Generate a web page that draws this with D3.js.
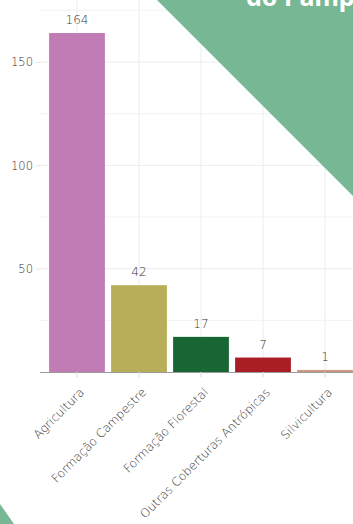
<!DOCTYPE html>
<html>
<head>
<meta charset="utf-8">
<script src="https://cdn.jsdelivr.net/npm/d3@7"></script>
<style>
  html, body { margin: 0; padding: 0; background: #fff; overflow: hidden; }
  text { font-family: "DejaVu Sans", Lato, sans-serif; font-weight: 200; fill: #333; }
</style>
</head>
<body>
<div id="chart"></div>
<script>
// data
var categories = ["Agricultura", "Formação Campestre", "Formação Florestal", "Outras Coberturas Antrópicas", "Silvicultura"];
var values = [164, 42, 17, 7, 1];
var yTicks = [50, 100, 150];
var yMinor = [25, 75, 125, 175];
var palette = ["#c27cb5", "#b8ad58", "#176633", "#a91d25", "#c99a7f"];

var W = 353, H = 524;
var labelFont = "'DejaVu Sans', Lato, sans-serif";

var svg = d3.select("#chart")
    .append("svg")
    .attr("width", W)
    .attr("height", H);

// panel goes past the right edge, like the cropped original
var panelLeft = 40, panelRight = 361;

var x = d3.scaleBand()
    .domain(categories)
    .range([46, 356])
    .paddingInner(0.1)
    .paddingOuter(0.05);

var y = d3.scaleLinear()
    .domain([0, 175])
    .range([372, 10.3]);

var color = d3.scaleOrdinal().domain(categories).range(palette);

// grid
svg.append("g").selectAll("line")
    .data(yTicks.concat(yMinor))
    .enter().append("line")
    .attr("x1", panelLeft).attr("x2", panelRight)
    .attr("y1", function(d) { return y(d); })
    .attr("y2", function(d) { return y(d); })
    .attr("stroke", "#ececec")
    .attr("stroke-width", function(d) { return yTicks.indexOf(d) >= 0 ? 1 : 0.7; });

svg.append("g").selectAll("line")
    .data(categories)
    .enter().append("line")
    .attr("x1", function(d) { return x(d) + x.bandwidth() / 2; })
    .attr("x2", function(d) { return x(d) + x.bandwidth() / 2; })
    .attr("y1", 0).attr("y2", 378)
    .attr("stroke", "#ececec");

// y tick marks + labels
var yAxis = svg.append("g")
    .attr("transform", "translate(" + panelLeft + ",0)")
    .call(d3.axisLeft(y).tickValues(yTicks).tickSize(4).tickPadding(3));
yAxis.select(".domain").remove();
yAxis.selectAll(".tick line").attr("stroke", "#e4e4e4");
yAxis.selectAll(".tick text")
    .attr("font-size", 11.5)
    .style("font-family", labelFont)
    .style("font-weight", 200)
    .attr("fill", "#333");

// green corner shape
svg.append("polygon")
    .attr("points", "157,0 420,263 420,0")
    .attr("fill", "#77b793");
svg.append("text")
    .attr("x", 246).attr("y", 6)
    .attr("font-size", 25)
    .style("font-weight", 700)
    .style("font-family", "'Noto Sans', sans-serif")
    .style("fill", "#fff")
    .text("do Pampa");

svg.append("polygon")
    .attr("points", "0,504 14,524 0,524")
    .attr("fill", "#77b793");

// bars
svg.append("g").selectAll("rect")
    .data(values)
    .enter().append("rect")
    .attr("x", function(d, i) { return x(categories[i]); })
    .attr("y", function(d) { return y(d); })
    .attr("width", x.bandwidth())
    .attr("height", function(d) { return y(0) - y(d); })
    .attr("fill", function(d, i) { return color(categories[i]); });

// value labels
svg.append("g").selectAll("text")
    .data(values)
    .enter().append("text")
    .attr("x", function(d, i) { return x(categories[i]) + x.bandwidth() / 2; })
    .attr("y", function(d) { return y(d) - 9; })
    .attr("text-anchor", "middle")
    .attr("font-size", 12)
    .style("font-family", labelFont)
    .style("font-weight", 200)
    .text(function(d) { return d; });

// x axis
var xAxis = svg.append("g")
    .attr("transform", "translate(0," + y(0) + ")")
    .call(d3.axisBottom(x).tickSize(5).tickSizeOuter(0));
xAxis.select(".domain")
    .attr("d", "M" + panelLeft + ",0.5H" + panelRight)
    .attr("stroke", "#9a9a9a");
xAxis.selectAll(".tick line").attr("stroke", "#e4e4e4");
xAxis.selectAll(".tick text")
    .attr("font-size", 12)
    .style("font-family", labelFont)
    .style("font-weight", 200)
    .attr("fill", "#333")
    .attr("text-anchor", "end")
    .attr("dy", null)
    .attr("y", null)
    .attr("transform", "translate(8,21)rotate(-45)");
</script>
</body>
</html>
